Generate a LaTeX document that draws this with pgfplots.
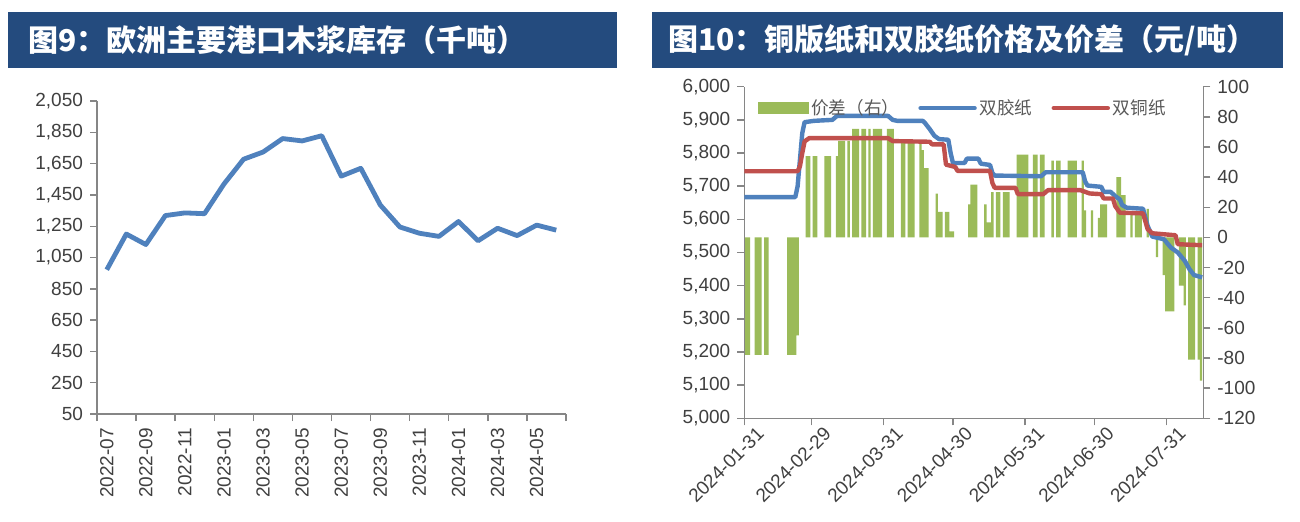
\documentclass[border=0pt]{standalone}
\usepackage{fontspec}
\setmainfont{Liberation Sans}
\newfontfamily\cjk{Noto Sans CJK SC}
\usepackage{pgfplots}
\pgfplotsset{compat=1.18}
\definecolor{titlebg}{HTML}{244B7E}
\definecolor{lblue}{HTML}{4F81BD}
\definecolor{lred}{HTML}{C0504D}
\definecolor{bgreen}{HTML}{9BBB59}
\definecolor{axgray}{HTML}{868686}
\definecolor{txt}{HTML}{404040}
\definecolor{legtxt}{HTML}{595959}
\begin{document}
\begin{tikzpicture}[x=1pt,y=1pt]
\fill[white] (0,0) rectangle (650,260.5);
\useasboundingbox (0,0) rectangle (650,260.5);
% title bars
\fill[titlebg] (4,226.5) rectangle (308.5,254.5);
\node[anchor=west,text=white,inner sep=0pt,font=\cjk\bfseries\fontsize{15}{15}\selectfont] at (14,240.5) {图9：欧洲主要港口木浆库存（千吨）};
\fill[titlebg] (326,226.5) rectangle (641.5,254.5);
\node[anchor=west,text=white,inner sep=0pt,font=\cjk\bfseries\fontsize{15}{15}\selectfont] at (334,240.5) {图10：铜版纸和双胶纸价格及价差（元/吨）};

% ---------------- left chart ----------------
\begin{axis}[
  at={(48.5pt,53.5pt)}, anchor=south west,
  width=234.5pt, height=156.5pt, scale only axis,
  xmin=0, xmax=24, ymin=50, ymax=2050,
  axis lines*=left,
  axis line style={axgray, line width=0.7pt},
  tick align=outside, major tick length=3.5pt, minor tick length=3.5pt,
  ytick={50,250,...,2050},
  yticklabels={50,250,450,650,850,{1,050},{1,250},{1,450},{1,650},{1,850},{2,050}},
  xtick={0.5,2.5,...,22.5},
  xticklabels={2022-07,2022-09,2022-11,2023-01,2023-03,2023-05,2023-07,2023-09,2023-11,2024-01,2024-03,2024-05},
  minor xtick={0,2,...,24},
  major x tick style={draw=none},
  minor x tick style={axgray, line width=0.7pt},
  major y tick style={axgray, line width=0.7pt},
  xticklabel style={rotate=90, anchor=east},
  tick label style={font=\fontsize{9.5}{10}\selectfont, text=txt},
]
\addplot[lblue, line width=2.4pt, line join=round] coordinates {
(0.5,972) (1.5,1200) (2.5,1133) (3.5,1318) (4.5,1335) (5.5,1330)
(6.5,1520) (7.5,1678) (8.5,1724) (9.5,1810) (10.5,1795) (11.5,1828)
(12.5,1570) (13.5,1620) (14.5,1385) (15.5,1245) (16.5,1205) (17.5,1185)
(18.5,1280) (19.5,1157) (20.5,1237) (21.5,1190) (22.5,1257) (23.5,1225)
};
\end{axis}

% ---------------- right chart: bars on right axis ----------------
\begin{axis}[
  at={(372.15pt,51.35pt)}, anchor=south west,
  width=229.5pt, height=165.8pt, scale only axis,
  xmin=0, xmax=198, ymin=-120, ymax=100,
  axis x line=none, axis y line*=right,
  axis line style={axgray, line width=0.7pt},
  tick align=outside, major tick length=3.5pt,
  xtick=\empty,
  ytick={-120,-100,...,100},
  yticklabels={-120,-100,-80,-60,-40,-20,0,20,40,60,80,100},
  major y tick style={axgray, line width=0.7pt},
  tick label style={font=\fontsize{9.5}{10}\selectfont, text=txt},
  ybar, bar width=1,
]
\addplot[fill=bgreen, draw=none] coordinates {
(0,-78) (1,-78) (2,-78)
(5,-78) (6,-78) (7,-78)
(9,-78) (10,-78)
(19,-78) (20,-78) (21,-78) (22,-78) (23,-65)
(27,54) (28,54)
(30,54) (31,54)
(35,54) (36,54) (37,54)
(40,54) (41,64) (42,64) (43,64)
(45,64)
(47,72) (48,72) (49,72)
(51,72) (52,72)
(54,72)
(56,72) (57,72) (58,72) (59,72)
(62,72) (63,72) (64,72)
(68,64) (69,64)
(71,64) (72,64) (73,64)
(76,64) (77,58) (78,46) (79,46)
(83,29) (84,17) (85,17)
(87,17) (88,17) (89,4) (90,4)
(97,22) (98,35) (99,35) (100,35)
(104,22) (105,10) (106,10) (107,30)
(109,30) (110,30)
(112,30) (113,30) (114,30)
(118,55) (119,55) (120,55) (121,55) (122,55)
(125,55) (126,55)
(128,55) (129,55)
(133,51)
(135,51) (136,51)
(140,51) (141,51) (142,51) (143,51)
(146,51) (147,18)
(150,18)
(153,13) (154,22) (155,22) (156,22)
(161,40) (162,40) (163,28) (164,28)
(167,15)
(169,15) (170,15) (171,15)
(174,19)
(178,-13)
(181,-25) (182,-49) (183,-49) (184,-49) (185,-49)
(188,-32) (189,-32) (190,-45)
(192,-81) (193,-81) (194,-81)
(196,-81) (197,-95)
};
\end{axis}

% ---------------- right chart: lines on left axis ----------------
\begin{axis}[
  at={(372.15pt,51.35pt)}, anchor=south west,
  width=229.5pt, height=165.8pt, scale only axis,
  xmin=0, xmax=198, ymin=5000, ymax=6000,
  axis x line*=bottom, axis y line*=left,
  axis line style={axgray, line width=0.7pt},
  tick align=outside, major tick length=3.5pt,
  ytick={5000,5100,...,6000},
  yticklabels={{5,000},{5,100},{5,200},{5,300},{5,400},{5,500},{5,600},{5,700},{5,800},{5,900},{6,000}},
  xtick={0,29,60,90,121,151,182},
  xticklabels={2024-01-31,2024-02-29,2024-03-31,2024-04-30,2024-05-31,2024-06-30,2024-07-31},
  xticklabel style={rotate=45, anchor=north east, inner sep=1pt, xshift=5pt, yshift=-3pt},
  major tick style={axgray, line width=0.7pt},
  tick label style={font=\fontsize{9.5}{10}\selectfont, text=txt},
  legend style={draw=none, fill=none, at={(0.015,0.985)}, anchor=north west,
    legend columns=3, font=\cjk\fontsize{8.8}{9}\selectfont, text=legtxt,
    /tikz/every even column/.append style={column sep=8pt},
    nodes={inner sep=1.5pt}},
  legend cell align=left,
]
\addlegendimage{legend image code/.code={\fill[bgreen] (0pt,-2.8pt) rectangle (25pt,2.8pt);}}
\addlegendentry{价差（右）}
\addplot[lblue, line width=2.2pt, line join=round,
  legend image code/.code={\draw[lblue, line width=2.2pt, line cap=round] (0pt,0pt) -- (27pt,0pt);}] coordinates {
(0,5667) (22,5667) (23,5700) (24,5780) (25,5860) (26,5893)
(30,5897) (38,5900) (40,5912) (62,5912) (64,5900) (66,5897)
(77,5897) (78,5890) (80,5872) (82,5852) (84,5842) (88,5840)
(89,5800) (90,5770) (95,5770) (96,5783) (101,5783) (102,5768)
(106,5764) (107,5740) (108,5732) (128,5730) (130,5742) (146,5742)
(147,5715) (148,5702) (154,5698) (155,5683) (158,5683) (160,5670)
(162,5660) (163,5643) (165,5635) (172,5632) (174,5580) (176,5548)
(181,5540) (184,5515) (187,5500) (190,5475) (192,5450) (194,5432)
(197.5,5425)
};
\addlegendentry{双胶纸}
\addplot[lred, line width=2.2pt, line join=round,
  legend image code/.code={\draw[lred, line width=2.2pt, line cap=round] (0pt,0pt) -- (27pt,0pt);}] coordinates {
(0,5745) (23,5745) (24,5760) (25,5800) (26,5835) (28,5845)
(62,5845) (64,5836) (80,5834) (81,5826) (86,5826) (87,5765)
(91,5758) (92,5746) (106,5746) (107,5710) (108,5695) (117,5695)
(118,5676) (129,5676) (131,5688) (145,5688) (147,5683) (149,5678)
(154,5676) (155,5663) (159,5663) (160,5640) (162,5620) (172,5618)
(174,5570) (176,5558) (186,5552) (187,5525) (197.5,5522)
};
\addlegendentry{双铜纸}
\end{axis}
\end{tikzpicture}
\end{document}
